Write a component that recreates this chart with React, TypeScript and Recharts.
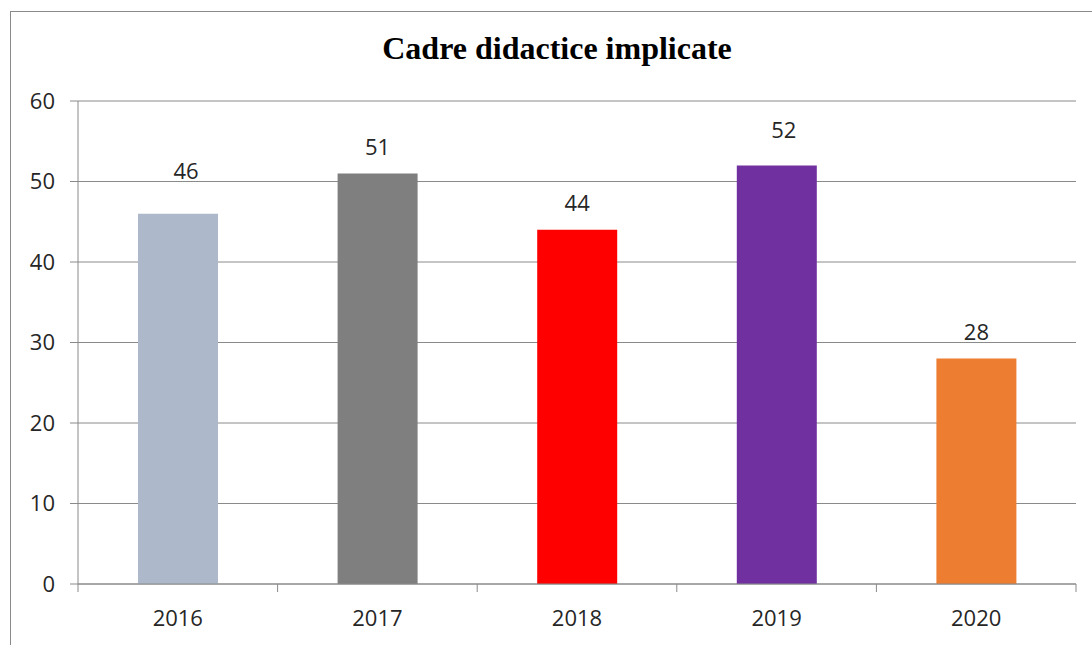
import { BarChart, Bar, XAxis, YAxis, CartesianGrid, Cell, LabelList, Text } from "recharts";

const years = ["2016", "2017", "2018", "2019", "2020"];
const values = [46, 51, 44, 52, 28];
const colors = ["#ADB9CA", "#7F7F7F", "#FF0000", "#7030A0", "#ED7D31"];
const yTicks = [0, 10, 20, 30, 40, 50, 60];

// data labels were nudged by hand in the original, keep those nudges
const labelGap = [35, 18, 19, 27, 19];
const labelShift = [8, 0, 0, 7, 0];

const data = years.map((year, i) => ({ year, value: values[i], color: colors[i] }));

const AXIS = "#8a8a8a";
const FONT = "'Open Sans', sans-serif";

// category axis tick: label in the middle, tick marks on the band edges
function YearTick(props: any) {
  const { x, y, payload, index, visibleTicksCount } = props;
  const half = payload?.offset ?? 0;
  const axisY = y - 26;
  const last = index === (visibleTicksCount ?? years.length) - 1;
  return (
    <g>
      <line x1={x - half} x2={x - half} y1={axisY} y2={axisY + 8} stroke={AXIS} />
      {last && <line x1={x + half} x2={x + half} y1={axisY} y2={axisY + 8} stroke={AXIS} />}
      <Text x={x} y={y} textAnchor="middle" verticalAnchor="start" fill="#262626" fontSize={22} fontFamily={FONT}>
        {payload.value}
      </Text>
    </g>
  );
}

function ValueLabel(props: any) {
  const { x, y, width, value, index } = props;
  return (
    <text
      x={x + width / 2 + (labelShift[index] ?? 0)}
      y={y - (labelGap[index] ?? 19)}
      textAnchor="middle"
      fill="#262626"
      fontSize={22}
      fontFamily={FONT}
    >
      {value}
    </text>
  );
}

export default function App() {
  return (
    <div style={{ position: "fixed", left: 0, top: 0, width: 1092, height: 645, overflow: "hidden", background: "#fff" }}>
      <div
        style={{
          position: "absolute",
          left: 10,
          top: 11,
          width: 1100,
          height: 700,
          border: "1px solid #8a8a8a",
          boxSizing: "border-box",
        }}
      />
      <div
        style={{
          position: "absolute",
          left: 0,
          top: 30,
          width: 1114,
          textAlign: "center",
          fontFamily: "'Liberation Serif', 'Times New Roman', serif",
          fontWeight: "bold",
          fontSize: 32,
          color: "#000",
        }}
      >
        Cadre didactice implicate
      </div>
      <div style={{ position: "absolute", left: 0, top: 0 }}>
        <BarChart width={1092} height={645} data={data} margin={{ top: 101, right: 16, bottom: 11, left: 18 }}>
          <CartesianGrid vertical={false} stroke={AXIS} strokeWidth={1} />
          <XAxis
            dataKey="year"
            height={50}
            axisLine={{ stroke: AXIS }}
            tickLine={false}
            tickSize={8}
            tickMargin={18}
            tick={<YearTick />}
            interval={0}
          />
          <YAxis
            width={60}
            domain={[0, 60]}
            ticks={yTicks}
            axisLine={{ stroke: AXIS }}
            tickLine={{ stroke: AXIS }}
            tickSize={8}
            tickMargin={15}
            tick={{ fill: "#262626", fontSize: 22, fontFamily: FONT }}
          />
          <Bar dataKey="value" barSize={80} isAnimationActive={false}>
            {data.map((d) => (
              <Cell key={d.year} fill={d.color} />
            ))}
            <LabelList dataKey="value" content={<ValueLabel />} />
          </Bar>
        </BarChart>
      </div>
    </div>
  );
}
